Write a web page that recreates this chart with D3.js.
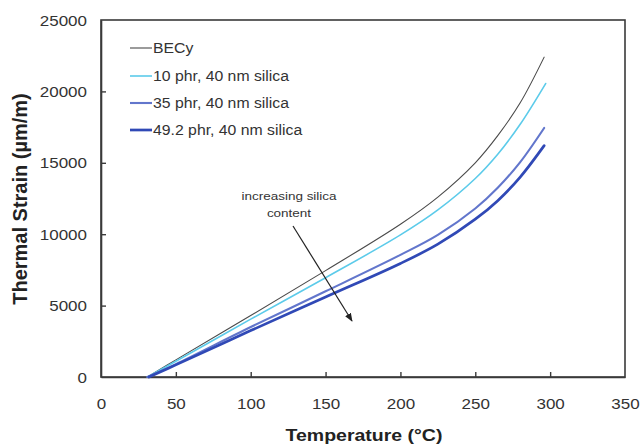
<!DOCTYPE html>
<html>
<head>
<meta charset="utf-8">
<script src="https://cdn.jsdelivr.net/npm/d3@7"></script>
<style>
  html, body { margin: 0; padding: 0; background: #fff; }
  svg { display: block; font-family: "Liberation Sans", Arial, sans-serif; }
</style>
</head>
<body>
<svg id="chart" width="640" height="444"></svg>
<script>
// Thermal strain vs temperature for BECy and silica-filled BECy
const seriesNames = ["BECy", "10 phr, 40 nm silica", "35 phr, 40 nm silica", "49.2 phr, 40 nm silica"];
const seriesColors = ["#4a4a4a", "#5ccbea", "#6276cc", "#3049b6"];
const seriesWidths = [1.1, 1.6, 2.1, 2.7];

// [temperature °C, strain µm/m]
const becy  = [[31,0],[50,1200],[100,4300],[150,7450],[200,10700],[225,12600],[250,15000],[265,16900],[280,19200],[296,22400]];
const phr10 = [[31,0],[50,1100],[100,4050],[150,6950],[200,9950],[225,11700],[250,13900],[265,15600],[280,17700],[297,20550]];
const phr35 = [[31,0],[50,900],[100,3500],[150,6000],[200,8550],[225,9950],[250,11800],[265,13250],[280,15050],[296,17440]];
const phr49 = [[32,0],[50,850],[100,3250],[150,5600],[200,7950],[225,9300],[250,11050],[265,12350],[280,14000],[296,16200]];
const allSeries = [becy, phr10, phr35, phr49];

const xTicks = [0, 50, 100, 150, 200, 250, 300, 350];
const yTicks = [0, 5000, 10000, 15000, 20000, 25000];

const svg = d3.select("#chart");
const plotLeft = 101, plotRight = 625, plotTop = 20, plotBottom = 377;
const squash = 0.87; // glyphs are drawn slightly flattened

const x = d3.scaleLinear().domain([0, 350]).range([plotLeft, plotRight]);
const y = d3.scaleLinear().domain([0, 25000]).range([plotBottom, plotTop]);

const axisColor = "#3a3a3a";
const textColor = "#333";

// place a text node at (px, py) with a vertical squash
function flatText(sel, px, py) {
  sel.attr("x", 0).attr("y", 0)
     .attr("transform", `translate(${px},${py}) scale(1,${squash})`);
}

// plot frame
svg.append("rect")
  .attr("x", plotLeft).attr("y", plotTop)
  .attr("width", plotRight - plotLeft).attr("height", plotBottom - plotTop)
  .attr("fill", "none").attr("stroke", axisColor).attr("stroke-width", 1.6);

// axes with inward ticks
const xAxis = svg.append("g").attr("transform", `translate(0,${plotBottom})`)
  .call(d3.axisBottom(x).tickValues(xTicks).tickFormat(d3.format("d")).tickSizeInner(-5).tickSizeOuter(0));
const yAxis = svg.append("g").attr("transform", `translate(${plotLeft},0)`)
  .call(d3.axisLeft(y).tickValues(yTicks).tickFormat(d3.format("d")).tickSizeInner(-5).tickSizeOuter(0));

[xAxis, yAxis].forEach(g => {
  g.select(".domain").attr("stroke", axisColor).attr("stroke-width", 1.6);
  g.selectAll(".tick line").attr("stroke", axisColor).attr("stroke-width", 1.4);
  g.selectAll(".tick text").attr("fill", textColor)
    .style("font-size", "17px").style("font-family", "'Liberation Sans', Arial, sans-serif");
});
xAxis.selectAll(".tick line").filter(d => d === 0 || d === 350).remove();
yAxis.selectAll(".tick line").filter(d => d === 0 || d === 25000).remove();
xAxis.selectAll(".tick text").attr("dy", "0.35em").each(function () { flatText(d3.select(this), 0, 27); });
yAxis.selectAll(".tick text").attr("dy", "0.35em").each(function () { flatText(d3.select(this), -14, 0); });

// axis titles
svg.append("text")
  .attr("text-anchor", "middle")
  .attr("fill", "#222")
  .style("font-size", "19.5px").style("font-weight", "bold")
  .text("Temperature (°C)")
  .call(flatText, 364, 441);

svg.append("text")
  .attr("transform", `translate(27,199) rotate(-90)`)
  .attr("text-anchor", "middle")
  .attr("fill", "#222")
  .style("font-size", "20px").style("font-weight", "bold")
  .text("Thermal Strain (µm/m)");

// curves
const line = d3.line()
  .x(d => x(d[0])).y(d => y(d[1]))
  .curve(d3.curveCatmullRom.alpha(0.5));

svg.append("g").selectAll("path")
  .data(allSeries)
  .join("path")
  .attr("d", line)
  .attr("fill", "none")
  .attr("stroke", (d, i) => seriesColors[i])
  .attr("stroke-width", (d, i) => seriesWidths[i])
  .attr("stroke-linecap", "round");

// legend
const legend = svg.append("g");
const legendRows = [48, 76, 103, 130];
seriesNames.forEach((name, i) => {
  legend.append("line")
    .attr("x1", 130).attr("x2", 152)
    .attr("y1", legendRows[i]).attr("y2", legendRows[i])
    .attr("stroke", seriesColors[i]).attr("stroke-width", seriesWidths[i]);
  legend.append("text")
    .attr("dy", "0.35em")
    .attr("fill", textColor)
    .style("font-size", "15.8px")
    .text(name)
    .call(flatText, 153, legendRows[i]);
});

// annotation with arrow
const defs = svg.append("defs");
defs.append("marker")
  .attr("id", "arrowhead")
  .attr("viewBox", "0 0 10 10")
  .attr("refX", 9).attr("refY", 5)
  .attr("markerWidth", 7).attr("markerHeight", 7)
  .attr("orient", "auto")
  .append("path").attr("d", "M0,1 L10,5 L0,9 Z").attr("fill", "#222");

svg.append("line")
  .attr("x1", 293).attr("y1", 226)
  .attr("x2", 352).attr("y2", 321)
  .attr("stroke", "#222").attr("stroke-width", 1.2)
  .attr("marker-end", "url(#arrowhead)");

svg.append("text")
  .attr("text-anchor", "middle").attr("fill", textColor)
  .attr("dy", "0.35em")
  .style("font-size", "13.5px")
  .text("increasing silica")
  .call(flatText, 289, 196);
svg.append("text")
  .attr("text-anchor", "middle").attr("fill", textColor)
  .attr("dy", "0.35em")
  .style("font-size", "13.5px")
  .text("content")
  .call(flatText, 289, 213);
</script>
</body>
</html>
